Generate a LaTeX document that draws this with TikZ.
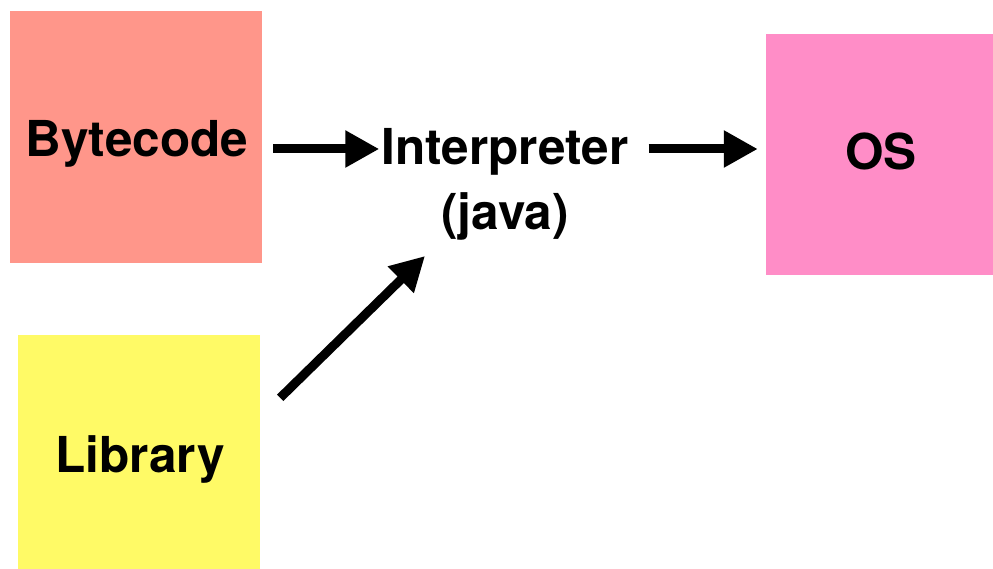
\documentclass[tikz,border=0pt]{standalone}
\usepackage{fontspec}
\setmainfont{TeX Gyre Heros}
\usetikzlibrary{arrows.meta}
\definecolor{bytefill}{RGB}{255,150,138}
\definecolor{libfill}{RGB}{255,250,102}
\definecolor{osfill}{RGB}{255,141,199}
\begin{document}
\begin{tikzpicture}[x=1pt,y=1pt,
  box/.style={rectangle, inner sep=0pt, draw=none},
  lbl/.style={inner sep=0pt, anchor=base, font=\fontsize{49.5}{65}\selectfont\bfseries},
  arr/.style={line width=9pt, -{Triangle[length=34pt,width=35pt]}}]
\useasboundingbox (0,0) rectangle (993,-569);
% boxes
\node[box, fill=bytefill, minimum width=252pt, minimum height=252pt] (byte) at (136,-137) {};
\node[box, fill=libfill, minimum width=242pt, minimum height=234pt] (lib) at (139,-452) {};
\node[box, fill=osfill, minimum width=227pt, minimum height=241pt] (os) at (879.5,-154.5) {};
% labels
\node[lbl] (bytet) at (137,-157) {Bytecode};
\node[lbl] (libt) at (140,-472) {Library};
\node[lbl] (ost) at (881,-170) {OS};
\node[lbl, align=center] (interp) at (505,-230) {Interpreter\\(java)};
% arrows
\coordinate (row) at (0,-149);
\draw[arr, shorten <=11pt, shorten >=2pt] (byte.east |- row) -- (interp.west |- row);
\draw[arr, shorten <=20pt, shorten >=8pt] (interp.east |- row) -- (os.west |- row);
\draw[arr] ([shift={(20pt,-63pt)}]lib.north east) -- ([shift={(-80pt,-26pt)}]interp.base);
\end{tikzpicture}
\end{document}
